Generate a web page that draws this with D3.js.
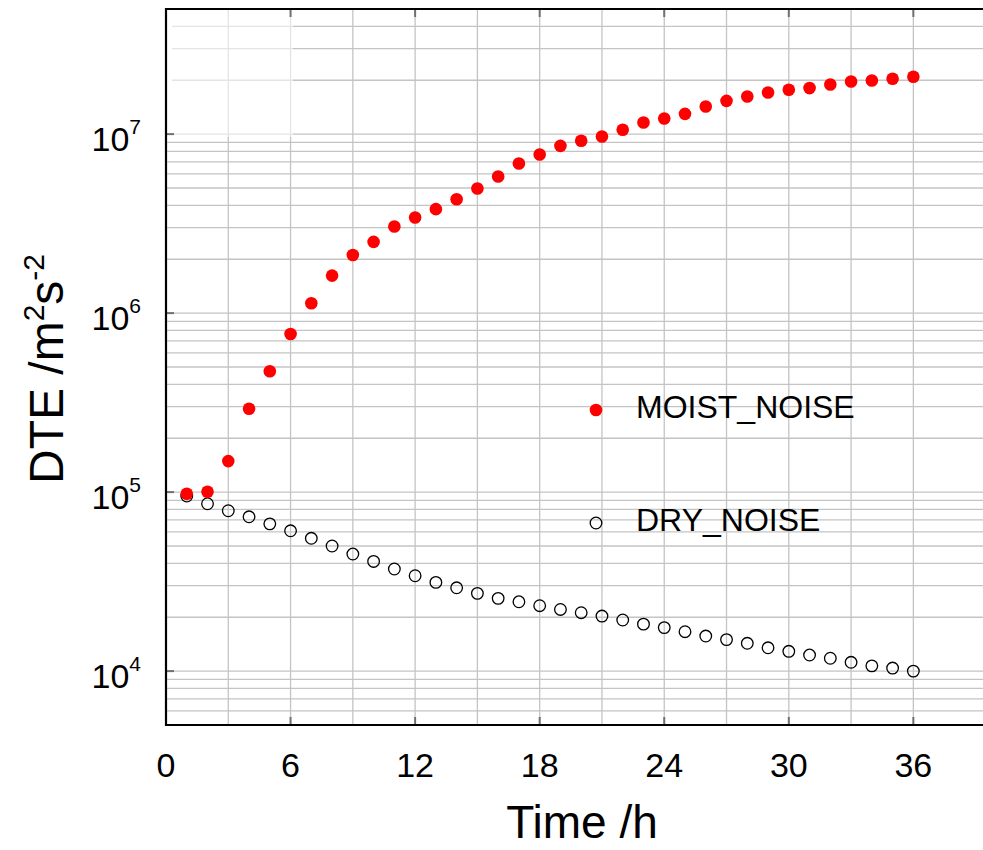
<!DOCTYPE html>
<html>
<head>
<meta charset="utf-8">
<script src="https://cdn.jsdelivr.net/npm/d3@7"></script>
<style>
  html, body { margin: 0; padding: 0; background: #fff; }
  svg { display: block; font-family: "Liberation Sans", Arial, Helvetica, sans-serif; }
</style>
</head>
<body>
<svg id="chart" width="983" height="850"></svg>
<script>
// ---- data ----
const hours = d3.range(1, 37);
const moistNoise = [9.8e4, 1.005e5, 1.49e5, 2.92e5, 4.73e5, 7.65e5, 1.135e6, 1.62e6, 2.11e6, 2.50e6,
  3.05e6, 3.42e6, 3.81e6, 4.33e6, 4.97e6, 5.80e6, 6.85e6, 7.69e6, 8.60e6, 9.18e6,
  9.70e6, 1.057e7, 1.161e7, 1.222e7, 1.298e7, 1.426e7, 1.534e7, 1.622e7, 1.709e7, 1.770e7,
  1.808e7, 1.893e7, 1.967e7, 1.995e7, 2.038e7, 2.09e7];
const dryNoise = [9.51e4, 8.61e4, 7.87e4, 7.28e4, 6.65e4, 6.08e4, 5.52e4, 5.00e4, 4.51e4, 4.10e4,
  3.72e4, 3.41e4, 3.13e4, 2.92e4, 2.72e4, 2.55e4, 2.44e4, 2.32e4, 2.21e4, 2.12e4,
  2.03e4, 1.93e4, 1.83e4, 1.75e4, 1.66e4, 1.57e4, 1.50e4, 1.43e4, 1.35e4, 1.29e4,
  1.23e4, 1.18e4, 1.12e4, 1.07e4, 1.04e4, 1.00e4];
const xTicks = [0, 6, 12, 18, 24, 30, 36];
const xGrid = d3.range(3, 37, 3);
const yTickExps = [4, 5, 6, 7];
const seriesNames = ["MOIST_NOISE", "DRY_NOISE"];

// ---- layout ----
const svg = d3.select("#chart");
const L = 166, T = 9, B = 725, R = 983;
const x = d3.scaleLinear().domain([0, 40]).range([L, L + 40 * 20.76]);
const y = d3.scaleLog().domain([5e3, 5e7]).range([B, T]);

const gridColor = "#c4c4c4";

// horizontal grid (log minor)
const yGridVals = [];
for (let d = 3; d <= 7; d++) for (let k = 1; k <= 9; k++) {
  const v = k * Math.pow(10, d);
  if (v > 5e3 && v < 5e7) yGridVals.push(v);
}
svg.append("g").selectAll("line").data(yGridVals).join("line")
  .attr("x1", L).attr("x2", R)
  .attr("y1", d => y(d)).attr("y2", d => y(d))
  .attr("stroke", gridColor).attr("stroke-width", 1.3);

// vertical grid
svg.append("g").selectAll("line").data(xGrid).join("line")
  .attr("x1", d => x(d)).attr("x2", d => x(d))
  .attr("y1", T).attr("y2", B)
  .attr("stroke", gridColor).attr("stroke-width", 1.3);

// faded patch top-left
svg.append("rect").attr("x", L + 1).attr("y", T + 1).attr("width", 126).attr("height", 127)
  .attr("fill", "#fff").attr("fill-opacity", 0.55);
svg.append("rect").attr("x", L + 1).attr("y", T + 1).attr("width", 5).attr("height", 127)
  .attr("fill", "#fff");

// inner tick marks
const tickG = svg.append("g").attr("stroke", "#707070").attr("stroke-width", 2);
xTicks.filter(d => d > 0).forEach(d => {
  tickG.append("line").attr("x1", x(d)).attr("x2", x(d)).attr("y1", B).attr("y2", B - 8);
  tickG.append("line").attr("x1", x(d)).attr("x2", x(d)).attr("y1", T).attr("y2", T + 8);
});
yTickExps.forEach(e => {
  tickG.append("line").attr("x1", L).attr("x2", L + 8).attr("y1", y(Math.pow(10, e))).attr("y2", y(Math.pow(10, e)));
});

// frame
svg.append("line").attr("x1", L).attr("x2", R).attr("y1", T).attr("y2", T).attr("stroke", "#000").attr("stroke-width", 2.2);
svg.append("line").attr("x1", L).attr("x2", R).attr("y1", B).attr("y2", B).attr("stroke", "#000").attr("stroke-width", 2.2);
svg.append("line").attr("x1", L).attr("x2", L).attr("y1", T - 1).attr("y2", B + 1).attr("stroke", "#000").attr("stroke-width", 2.2);

// x tick labels
svg.append("g").selectAll("text").data(xTicks).join("text")
  .attr("x", d => x(d)).attr("y", 777)
  .attr("text-anchor", "middle").attr("font-size", 34).attr("fill", "#000")
  .text(d => d);

// y tick labels
yTickExps.forEach(e => {
  const t = svg.append("text").attr("x", 141).attr("y", y(Math.pow(10, e)) + 17)
    .attr("text-anchor", "end").attr("font-size", 34).attr("fill", "#000");
  t.append("tspan").text("10");
  t.append("tspan").attr("dy", -17).attr("font-size", 21).text(e);
});

// axis titles
svg.append("text").attr("x", 582).attr("y", 838).attr("text-anchor", "middle")
  .attr("font-size", 46).attr("fill", "#000").text("Time /h");
const yt = svg.append("text").attr("transform", "translate(63,369) rotate(-90)")
  .attr("text-anchor", "middle").attr("font-size", 48).attr("fill", "#000");
yt.append("tspan").text("DTE /m");
yt.append("tspan").attr("dy", -19).attr("font-size", 30).text("2");
yt.append("tspan").attr("dy", 19).text("s");
yt.append("tspan").attr("dy", -19).attr("font-size", 30).text("-2");

// data: dry first, then moist on top
svg.append("g").selectAll("circle").data(hours).join("circle")
  .attr("cx", (d) => x(d)).attr("cy", (d, i) => y(dryNoise[i])).attr("r", 5.8)
  .attr("fill", "none").attr("stroke", "#000").attr("stroke-width", 1.3);
svg.append("g").selectAll("circle").data(hours).join("circle")
  .attr("cx", (d) => x(d)).attr("cy", (d, i) => y(moistNoise[i])).attr("r", 6.3)
  .attr("fill", "#ff0000");

// legend
svg.append("circle").attr("cx", 596).attr("cy", 410).attr("r", 6.3).attr("fill", "#ff0000");
svg.append("text").attr("x", 636).attr("y", 418).attr("font-size", 32).attr("fill", "#000").text(seriesNames[0]);
svg.append("circle").attr("cx", 596).attr("cy", 523).attr("r", 5.8).attr("fill", "none")
  .attr("stroke", "#000").attr("stroke-width", 1.3);
svg.append("text").attr("x", 636).attr("y", 531).attr("font-size", 32).attr("fill", "#000").text(seriesNames[1]);
</script>
</body>
</html>
